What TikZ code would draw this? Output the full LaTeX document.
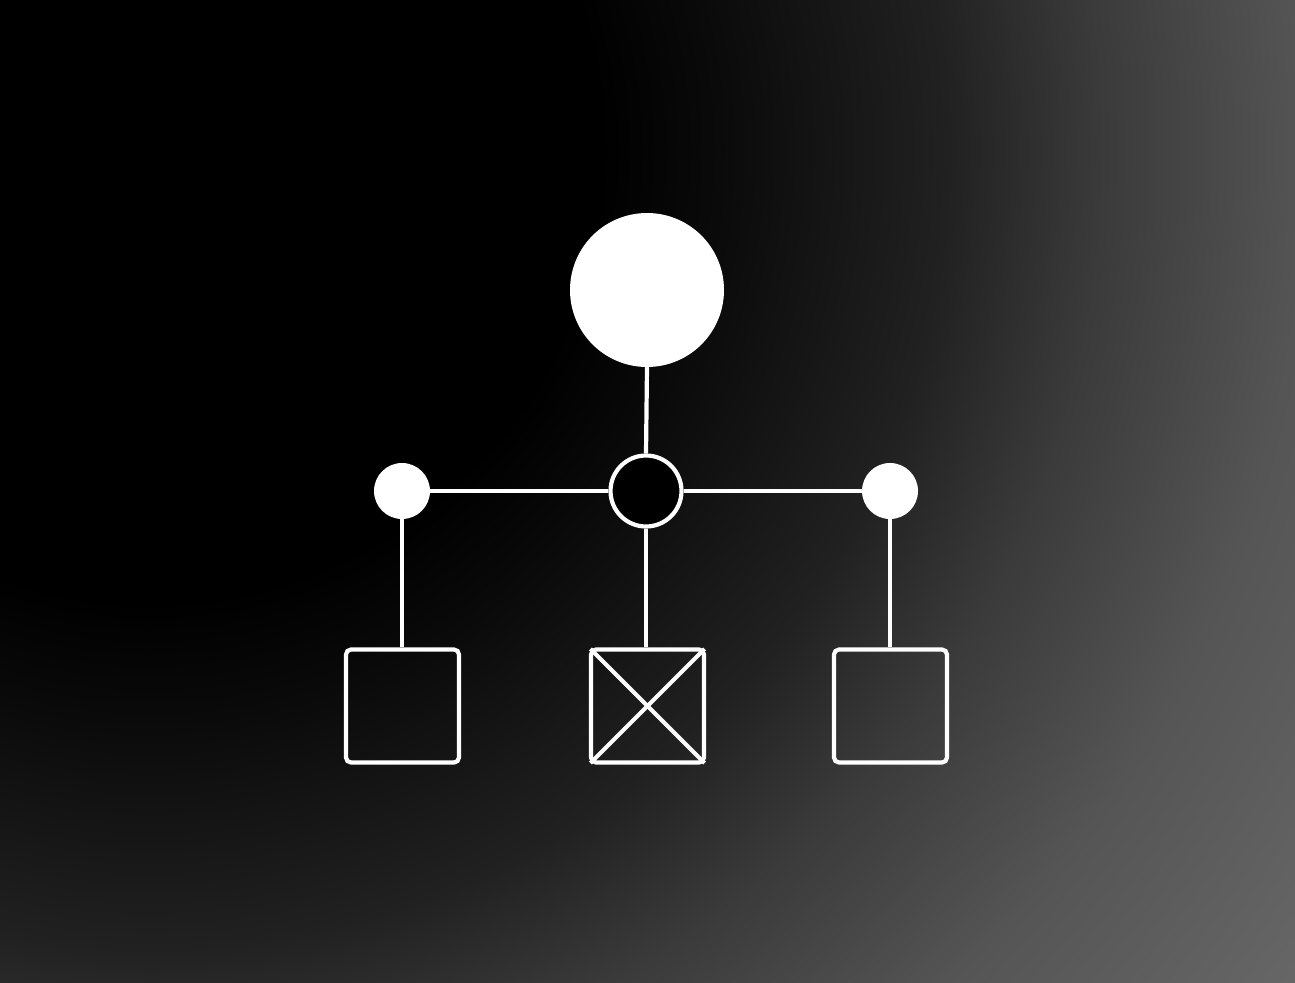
\documentclass[tikz,border=0pt]{standalone}
\usetikzlibrary{calc}
\definecolor{bgA}{HTML}{0A0A0A}
\definecolor{bgB}{HTML}{212121}
\definecolor{bgC}{HTML}{3A3A3A}
\definecolor{bgD}{HTML}{555555}
\definecolor{bgE}{HTML}{666666}
\definecolor{bgF}{HTML}{686868}
\pgfdeclareradialshading{bgshade}{\pgfpoint{0bp}{0bp}}{%
  color(0bp)=(black); color(7.5bp)=(black); color(9.5bp)=(bgA);
  color(13.3bp)=(bgB); color(15.8bp)=(bgC); color(19.3bp)=(bgD);
  color(23.5bp)=(bgE); color(25bp)=(bgF); color(50bp)=(bgF)}
\tikzset{
  wline/.style={draw=white, line width=4.2pt},
  bigdot/.style={circle, fill=white, inner sep=0pt, minimum size=154pt},
  smalldot/.style={circle, fill=white, inner sep=0pt, minimum size=56pt},
  hubdot/.style={circle, fill=black, draw=white, line width=4.2pt, inner sep=0pt, minimum size=71pt},
  leafbox/.style={rectangle, draw=white, line width=4.2pt, rounded corners=5pt, inner sep=0pt, minimum size=113pt},
}
\begin{document}
\begin{tikzpicture}[x=1pt,y=-1pt]
\useasboundingbox (0,0) rectangle (1295,982);
\fill[bgF] (0,0) rectangle (1295,982);
\begin{scope}
  \clip (0,0) rectangle (1295,982);
  \shade[shading=bgshade] (150,150) circle[radius=1500];
\end{scope}
% nodes
\node[bigdot] (top) at (647,290) {};
\node[hubdot] (hub) at (646,491) {};
\node[smalldot] (left) at (402,491) {};
\node[smalldot] (right) at (890,491) {};
\node[leafbox] (sqL) at (402.5,706) {};
\node[leafbox] (sqC) at (647.5,706) {};
\node[leafbox] (sqR) at (890.5,706) {};
% connectors
\draw[wline] (top.south) -- (hub.north);
\draw[wline] (left.east) -- (hub.west);
\draw[wline] (hub.east) -- (right.west);
\draw[wline] (left.south) -- (left.south |- sqL.north);
\draw[wline] (hub.south) -- (hub.south |- sqC.north);
\draw[wline] (right.south) -- (right.south |- sqR.north);
% cross in center box
\draw[wline] ($(sqC.north west)+(1.5,1.5)$) -- ($(sqC.south east)+(-1.5,-1.5)$);
\draw[wline] ($(sqC.north east)+(-1.5,1.5)$) -- ($(sqC.south west)+(1.5,-1.5)$);
\end{tikzpicture}
\end{document}
